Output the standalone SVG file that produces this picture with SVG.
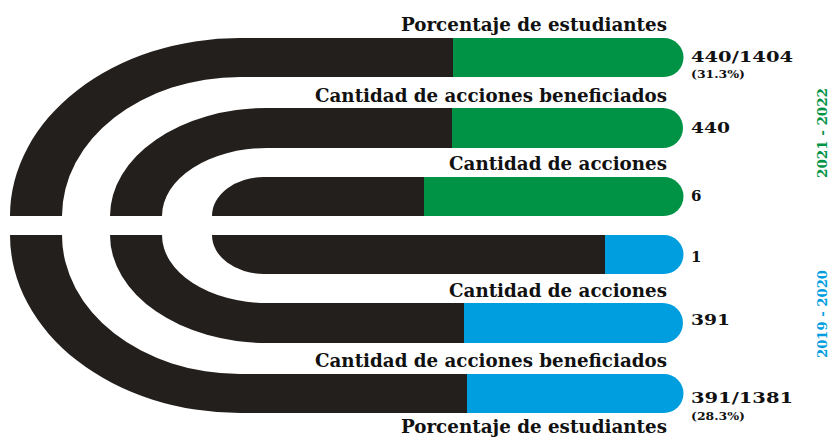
<svg xmlns="http://www.w3.org/2000/svg" width="834" height="440" viewBox="0 0 834 440">
<style>
.k{fill:#231f1c}
.g{fill:#009245}
.b{fill:#009edf}
.lbl{font-family:"DejaVu Serif","Liberation Serif",serif;font-weight:bold;font-size:19px;fill:#111}
.num{font-family:"DejaVu Serif","Liberation Serif",serif;font-weight:bold;font-size:15px;fill:#111}
.pct{font-family:"DejaVu Serif","Liberation Serif",serif;font-weight:bold;font-size:11px;fill:#111}
.yr{font-family:"DejaVu Serif","Liberation Serif",serif;font-weight:bold;font-size:13px}
</style>
<rect width="834" height="440" fill="#fff"/>
<g id="band-2021-estudiantes">
<path class="k" d="M10 216 A230 178 0 0 1 240 38 L453 38 L453 77 L240 77 A178 139 0 0 0 62 216 Z"/>
<path class="g" d="M453 38 L664 38 A19.5 19.5 0 0 1 664 77 L453 77 Z"/>
<text class="lbl" x="401" y="31" textLength="266" lengthAdjust="spacingAndGlyphs">Porcentaje de estudiantes</text>
<text class="num" x="691" y="62" textLength="102" lengthAdjust="spacingAndGlyphs">440/1404</text>
<text class="pct" x="691" y="78" textLength="54" lengthAdjust="spacingAndGlyphs">(31.3%)</text>
</g>
<g id="band-2021-beneficiados">
<path class="k" d="M110 216 A157 108 0 0 1 267 108 L452 108 L452 148 L267 148 A105 68 0 0 0 162 216 Z"/>
<path class="g" d="M452 108 L663 108 A20 20 0 0 1 663 148 L452 148 Z"/>
<text class="lbl" x="315" y="102" textLength="352" lengthAdjust="spacingAndGlyphs">Cantidad de acciones beneficiados</text>
<text class="num" x="691" y="133" textLength="39" lengthAdjust="spacingAndGlyphs">440</text>
</g>
<g id="band-2021-acciones">
<path class="k" d="M212 216 A52 39 0 0 1 264 177 L424 177 L424 216 Z"/>
<path class="g" d="M424 177 L664 177 A19.5 19.5 0 0 1 664 216 L424 216 Z"/>
<text class="lbl" x="449" y="170" textLength="218" lengthAdjust="spacingAndGlyphs">Cantidad de acciones</text>
<text class="num" x="691" y="201">6</text>
</g>
<g id="band-2019-acciones">
<path class="k" d="M212 235 A52 39 0 0 0 264 274 L605 274 L605 235 Z"/>
<path class="b" d="M605 235 L664 235 A19.5 19.5 0 0 1 664 274 L605 274 Z"/>
<text class="num" x="691" y="262">1</text>
<text class="lbl" x="449" y="297" textLength="218" lengthAdjust="spacingAndGlyphs">Cantidad de acciones</text>
</g>
<g id="band-2019-beneficiados">
<path class="k" d="M110 235 A157 108 0 0 0 267 343 L464 343 L464 303 L267 303 A105 68 0 0 1 162 235 Z"/>
<path class="b" d="M464 303 L663 303 A20 20 0 0 1 663 343 L464 343 Z"/>
<text class="num" x="691" y="325" textLength="39" lengthAdjust="spacingAndGlyphs">391</text>
<text class="lbl" x="315" y="367" textLength="352" lengthAdjust="spacingAndGlyphs">Cantidad de acciones beneficiados</text>
</g>
<g id="band-2019-estudiantes">
<path class="k" d="M10 235 A230 178 0 0 0 240 413 L467 413 L467 374 L240 374 A178 139 0 0 1 62 235 Z"/>
<path class="b" d="M467 374 L664 374 A19.5 19.5 0 0 1 664 413 L467 413 Z"/>
<text class="num" x="691" y="403" textLength="102" lengthAdjust="spacingAndGlyphs">391/1381</text>
<text class="pct" x="691" y="420" textLength="54" lengthAdjust="spacingAndGlyphs">(28.3%)</text>
<text class="lbl" x="401" y="433" textLength="266" lengthAdjust="spacingAndGlyphs">Porcentaje de estudiantes</text>
</g>
<g id="year-2021-2022">
<text class="yr" fill="#009245" transform="translate(827 133) rotate(-90)" text-anchor="middle" textLength="90" lengthAdjust="spacingAndGlyphs">2021 - 2022</text>
</g>
<g id="year-2019-2020">
<text class="yr" fill="#009edf" transform="translate(827 314) rotate(-90)" text-anchor="middle" textLength="88" lengthAdjust="spacingAndGlyphs">2019 - 2020</text>
</g>
<g id="connectors"></g>
</svg>
